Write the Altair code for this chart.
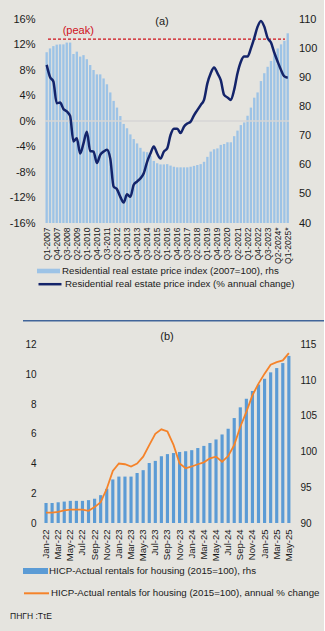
import altair as alt
import pandas as pd

FONT = "Liberation Sans"
BG = "#E5E4DF"
TXT = "#1A1A1A"
NAVY = "#14246A"
LIGHTBLUE = "#9DC3E6"
BLUE = "#5B9BD5"
ORANGE = "#F5832A"
RED = "#D0101B"

W, H = 324, 631

# ---------------- Panel (a) data ----------------
quarters = []
for i in range(73):
    yr = 2007 + i // 4
    lab = "Q%d-%d" % (i % 4 + 1, yr)
    if yr >= 2024:
        lab += "*"
    quarters.append(lab)
quarter_ticks = quarters[::3]

rre_index = [98.6, 99.9, 100.7, 101.2, 101.3, 101.3, 101.9, 101.9,
             98.0, 98.8, 97.1, 97.6, 96.2, 94.2, 92.5, 91.0,
             91.0, 89.6, 87.6, 84.8, 81.9, 79.6, 76.7, 74.0,
             72.5, 70.4, 68.8, 67.3, 65.8, 64.5, 64.3, 63.1,
             61.3, 60.5, 60.1, 60.1, 60.2, 59.7, 59.3, 59.1,
             59.1, 59.1, 59.1, 59.3, 59.6, 59.9, 60.2, 61.0,
             62.7, 64.5, 65.3, 65.6, 66.8, 67.1, 67.7, 67.7,
             69.8, 71.7, 73.6, 74.5, 76.8, 79.6, 83.0, 84.8,
             88.7, 91.4, 93.6, 95.6, 97.9, 99.9, 101.3, 102.5,
             105.1]

rre_change = [8.8, 6.9, 6.2, 2.8, 2.9, 1.9, 1.5, 0.8,
              -3.2, -2.7, -5.1, -3.5, -1.7, -4.7, -4.8, -6.6,
              -5.3, -4.8, -4.5, -5.9, -10.3, -10.7, -11.9, -12.8,
              -11.5, -11.9, -10.0, -9.5, -9.0, -8.2, -6.4, -5.1,
              -4.0, -5.1, -5.9, -4.8, -4.3, -2.2, -1.2, -1.2,
              -1.9, -0.9, -0.4, -0.1, 0.9, 1.7, 2.5, 3.3,
              5.9, 7.5, 8.4, 7.5, 6.4, 4.1, 3.7, 3.3,
              4.9, 7.5, 9.3, 10.1, 10.1, 11.4, 13.0, 14.8,
              15.7, 14.8, 13.0, 12.3, 10.7, 9.3, 8.0, 7.0,
              6.8]

peak_value = [103.1]
zero_line = [0]

leg_a_bar = "Residential real estate price index (2007=100), rhs"
leg_a_line = "Residential real estate price index (% annual change)"

# ---------------- Panel (b) data ----------------
mnames = ["Jan", "Feb", "Mar", "Apr", "May", "Jun", "Jul", "Aug", "Sep", "Oct", "Nov", "Dec"]
months = []
for yr in [22, 23, 24, 25]:
    for m in mnames:
        months.append("%s-%d" % (m, yr))
months = months[:41]
month_ticks = months[::2]

hicp_index = [92.8, 92.8, 92.9, 93.0, 93.1, 93.1, 93.1, 93.2, 93.4, 93.9,
              94.8, 96.1, 96.5, 96.5, 96.5, 97.0, 97.4, 98.4, 98.7, 99.35,
              99.65, 99.8, 99.95, 100.05, 100.2, 100.5, 100.8, 101.2, 101.7, 102.4,
              103.2, 104.7, 106.2, 107.4, 108.5, 109.4, 110.2, 111.1, 111.7, 112.4,
              113.4]

hicp_change = [0.7, 0.7, 0.75, 0.85, 0.9, 0.9, 0.9, 0.82, 1.07, 1.4,
               2.3, 3.5, 4.0, 3.95, 3.8, 4.0, 4.46, 5.24, 6.0, 6.3,
               6.15, 5.25, 4.0, 3.68, 3.8, 3.95, 4.08, 4.35, 4.46, 4.12,
               4.5, 5.24, 6.47, 7.47, 8.59, 9.37, 10.04, 10.64, 10.82, 10.93,
               11.42]

leg_b_bar = "HICP-Actual rentals for housing (2015=100), rhs"
leg_b_line = "HICP-Actual rentals for housing (2015=100), annual % change"

dfa = pd.DataFrame({"quarter": quarters, "idx": rre_index, "chg": rre_change,
                    "s_bar": leg_a_bar, "s_line": leg_a_line})
dfb = pd.DataFrame({"month": months, "idx": hicp_index, "chg": hicp_change,
                    "s_bar": leg_b_bar, "s_line": leg_b_line})

LEGFS = 9.7

# ---------------- Panel (a) ----------------
xa = alt.X("quarter:N", sort=None,
           scale=alt.Scale(range=[45.0, 289.4], paddingInner=0.3, paddingOuter=0.15),
           axis=alt.Axis(orient="bottom", offset=223 - H, values=quarter_ticks, labelAngle=-90,
                         labelFontSize=8.5, labelPadding=4, title=None))

ya_right = alt.Scale(domain=[40, 110], range=[223, 19], nice=False, zero=False)
ya_left = alt.Scale(domain=[-16, 16], range=[223, 19], nice=False, zero=False)

barsA = alt.Chart(dfa).mark_bar().encode(
    x=xa,
    y=alt.Y("idx:Q", scale=ya_right,
            axis=alt.Axis(orient="right", offset=-(W - 289.4), values=list(range(40, 111, 10)),
                          labelFontSize=11, labelPadding=9, title=None)),
    y2=alt.datum(40),
    color=alt.Color("s_bar:N", scale=alt.Scale(range=[LIGHTBLUE]),
                    legend=alt.Legend(title=None, orient="none", legendX=37, legendY=259.5,
                                      symbolType="M-1,-0.2H1V0.2H-1Z", symbolSize=529, symbolStrokeWidth=0,
                                      labelFontSize=LEGFS, labelLimit=400, labelOffset=2, padding=0)),
)

peakA = alt.Chart(pd.DataFrame({"peak": peak_value})).mark_rule(
    color=RED, strokeDash=[3, 2], strokeWidth=1.2).encode(
    y=alt.Y("peak:Q", scale=ya_right, axis=None), x=alt.value(48), x2=alt.value(285))

zeroA = alt.Chart(pd.DataFrame({"z": zero_line})).mark_rule(color="#D6D6D6", strokeWidth=1.5).encode(
    y=alt.Y("z:Q", scale=ya_left, axis=None), x=alt.value(45), x2=alt.value(289))

lineA = alt.Chart(dfa).mark_line(strokeWidth=2.5, interpolate="monotone").encode(
    x=xa,
    y=alt.Y("chg:Q", scale=ya_left,
            axis=alt.Axis(orient="left", offset=-45, values=list(range(-16, 17, 4)),
                          labelExpr="datum.value + '%'", labelFontSize=11, labelPadding=10, title=None)),
    color=alt.Color("s_line:N", scale=alt.Scale(range=[NAVY]),
                    legend=alt.Legend(title=None, orient="none", legendX=37, legendY=271.2,
                                      symbolType="stroke", symbolSize=529, symbolStrokeWidth=2.5,
                                      labelFontSize=LEGFS, labelLimit=400, labelOffset=2, padding=0)),
)

panelA = alt.layer(barsA, peakA, zeroA, lineA).resolve_scale(y="independent", color="independent")

# ---------------- Panel (b) ----------------
xb = alt.X("month:N", sort=None,
           scale=alt.Scale(range=[43.0, 291.9], paddingInner=0.48, paddingOuter=0.24),
           axis=alt.Axis(orient="bottom", offset=523 - H, values=month_ticks, labelAngle=-90,
                         labelFontSize=9.5, labelPadding=6, title=None))

barsB = alt.Chart(dfb).mark_bar().encode(
    x=xb,
    y=alt.Y("idx:Q", scale=alt.Scale(domain=[90, 115], range=[523, 344.5], nice=False, zero=False),
            axis=alt.Axis(orient="right", offset=-(W - 291.9), values=list(range(90, 116, 5)),
                          labelFontSize=10, labelPadding=8, title=None)),
    y2=alt.datum(90),
    color=alt.Color("s_bar:N", scale=alt.Scale(range=[BLUE]),
                    legend=alt.Legend(title=None, orient="none", legendX=23, legendY=558.5,
                                      symbolType="M-1,-0.24H1V0.24H-1Z", symbolSize=625, symbolStrokeWidth=0,
                                      labelFontSize=LEGFS, labelLimit=400, labelOffset=1, padding=0)),
)

lineB = alt.Chart(dfb).mark_line(strokeWidth=1.8).encode(
    x=xb,
    y=alt.Y("chg:Q", scale=alt.Scale(domain=[0, 12], range=[523, 344.5], nice=False, zero=False),
            axis=alt.Axis(orient="left", offset=-43, values=list(range(0, 13, 2)),
                          labelFontSize=10, labelPadding=7, title=None)),
    color=alt.Color("s_line:N", scale=alt.Scale(range=[ORANGE]),
                    legend=alt.Legend(title=None, orient="none", legendX=23, legendY=579.8,
                                      symbolType="stroke", symbolSize=625, symbolStrokeWidth=2,
                                      labelFontSize=LEGFS, labelLimit=400, labelOffset=1, padding=0)),
)

panelB = alt.layer(barsB, lineB).resolve_scale(y="independent", color="independent")

# ---------------- Annotations ----------------
def label(text, x, y, size=11, color=TXT, align="center"):
    return alt.Chart(pd.DataFrame({"t": [text]})).mark_text(
        font=FONT, fontSize=size, color=color, align=align, baseline="middle").encode(
        x=alt.value(x), y=alt.value(y), text="t:N")

sep = alt.Chart(pd.DataFrame({"s": [1]})).mark_rule(color="#41659A", strokeWidth=1.6).encode(
    x=alt.value(23), x2=alt.value(324), y=alt.value(320.7))

chart = alt.layer(
    panelA, panelB, sep,
    label("(a)", 162, 21.5),
    label("(peak)", 78.3, 31.2, color=RED),
    label("(b)", 167, 336.7),
    label("ΠΗΓΗ :ΤτΕ", 10, 616, size=8.5, align="left"),
).resolve_scale(x="independent", y="independent", color="independent").properties(
    width=W, height=H, autosize=alt.AutoSizeParams(type="none"), padding=0
).configure(background=BG, font=FONT).configure_view(stroke=None).configure_axis(
    domain=False, ticks=False, tickSize=0, grid=False, labelFont=FONT, labelColor=TXT
).configure_legend(labelFont=FONT, labelColor=TXT)

chart.save("out.html", embed_options={"renderer": "svg", "actions": False})
